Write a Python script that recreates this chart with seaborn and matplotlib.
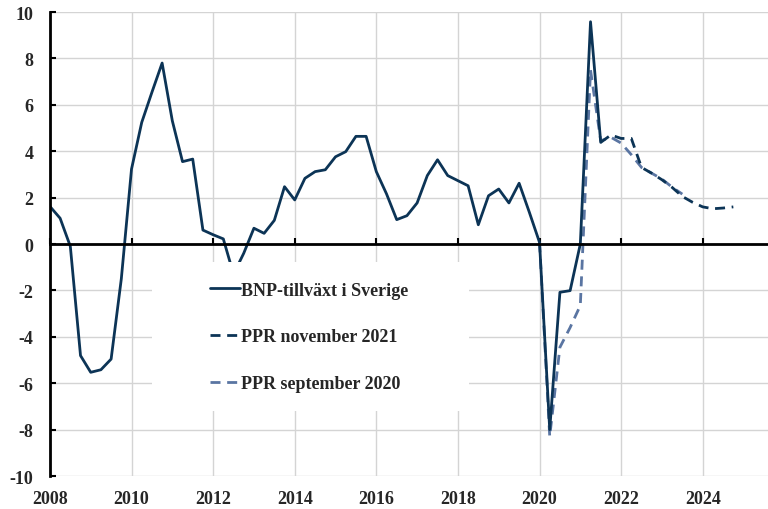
import numpy as np
import pandas as pd
import matplotlib
matplotlib.use("Agg")
import matplotlib.pyplot as plt
from matplotlib.patches import Rectangle
import seaborn as sns

# BNP-tillväxt, årlig procentuell förändring, kvartal
utfall_start = "2008Q1"
utfall = [1.62, 1.11, -0.1, -4.81,
          -5.53, -5.42, -4.96, -1.5,
          3.23, 5.24, 6.54, 7.8,
          5.31, 3.55, 3.66, 0.6,
          0.4, 0.22, -1.3, -0.4,
          0.68, 0.46, 1.02, 2.47,
          1.9, 2.83, 3.12, 3.2,
          3.76, 3.98, 4.64, 4.64,
          3.12, 2.16, 1.05, 1.22,
          1.77, 2.95, 3.63, 2.95,
          2.73, 2.51, 0.83, 2.08,
          2.37, 1.77, 2.62, 1.37,
          0.07, -8.0, -2.08, -2.01,
          0.0, 9.58, 4.38]

ppr_nov21_start = "2021Q3"
ppr_nov21 = [4.38, 4.7, 4.55, 4.55,
             3.3, 3.05, 2.77, 2.44,
             2.05, 1.8, 1.6, 1.52,
             1.55, 1.6]

ppr_sep20_start = "2020Q1"
ppr_sep20 = [0.07, -8.3, -4.45, -3.6,
             -2.65, 7.5, 4.45, 4.6,
             4.35, 3.85, 3.3, 3.05,
             2.8, 2.45, 2.15]

labels = ["BNP-tillväxt i Sverige", "PPR november 2021", "PPR september 2020"]
x_ticks = [2008, 2010, 2012, 2014, 2016, 2018, 2020, 2022, 2024]
y_ticks = list(range(-10, 11, 2))


def to_frame(start, values):
    q = pd.period_range(start=start, periods=len(values), freq="Q")
    return pd.DataFrame({"x": q.year + (q.quarter - 1) / 4, "y": values})


navy = "#0c3456"
light = "#5a75a2"

sns.set_theme(style="white")
plt.rcParams["font.family"] = ["Liberation Serif", "DejaVu Serif"]
plt.rcParams["font.weight"] = "bold"
plt.rcParams["axes.unicode_minus"] = False

fig = plt.figure(figsize=(7.68, 5.1), dpi=100)
ax = fig.add_axes([0.065, 0.0647, 0.935, 0.9098])

dash = (0, (3.6, 2.4))
sns.lineplot(data=to_frame(ppr_sep20_start, ppr_sep20), x="x", y="y", ax=ax,
             color=light, lw=2.0, linestyle=dash, label=labels[2], zorder=2.0)
sns.lineplot(data=to_frame(ppr_nov21_start, ppr_nov21), x="x", y="y", ax=ax,
             color=navy, lw=2.0, linestyle=dash, label=labels[1], zorder=2.1)
sns.lineplot(data=to_frame(utfall_start, utfall), x="x", y="y", ax=ax,
             color=navy, lw=2.0, label=labels[0], zorder=2.2)

ax.set_xlim(2008, 2025.6)
ax.set_ylim(-10, 10)
ax.set_xlabel("")
ax.set_ylabel("")

# grid
ax.set_yticks(y_ticks)
ax.set_xticks(x_ticks)
ax.grid(True, color="#d4d4d4", lw=1.0)
ax.set_axisbelow(True)

for s in ["top", "right"]:
    ax.spines[s].set_visible(False)
ax.spines["left"].set_color("black")
ax.spines["left"].set_linewidth(2.0)
ax.spines["bottom"].set_position(("data", 0))
ax.spines["bottom"].set_color("black")
ax.spines["bottom"].set_linewidth(2.0)
ax.spines["bottom"].set_zorder(2.5)

ax.tick_params(axis="y", direction="in", length=4, width=1.5, color="black",
               labelsize=13, pad=12, left=True)
ax.tick_params(axis="x", direction="in", length=4, width=1.5, color="black",
               labelbottom=False, bottom=True)
for t in ax.get_yticklabels():
    t.set_fontweight("bold")

# x labels at bottom of axes
sec = ax.secondary_xaxis(0)
sec.set_xticks(x_ticks)
sec.spines["bottom"].set_visible(False)
sec.tick_params(axis="x", length=0, labelsize=13, pad=10)
for t in sec.get_xticklabels():
    t.set_fontweight("bold")

# white legend area
ax.add_patch(Rectangle((0.142, 0.140), 0.442, 0.321, transform=ax.transAxes,
                       facecolor="white", edgecolor="none", zorder=3))

handles, labs = ax.get_legend_handles_labels()
order = [labs.index(l) for l in labels]
leg = ax.legend([handles[i] for i in order], [labs[i] for i in order],
                loc="center left", bbox_to_anchor=(0.223, 0.30), frameon=False,
                borderpad=0, borderaxespad=0, handlelength=1.65, handletextpad=0.05,
                labelspacing=1.65, prop={"family": "Liberation Serif", "weight": "bold", "size": 13})
leg.set_zorder(4)

fig.savefig("out.png", dpi=100)
